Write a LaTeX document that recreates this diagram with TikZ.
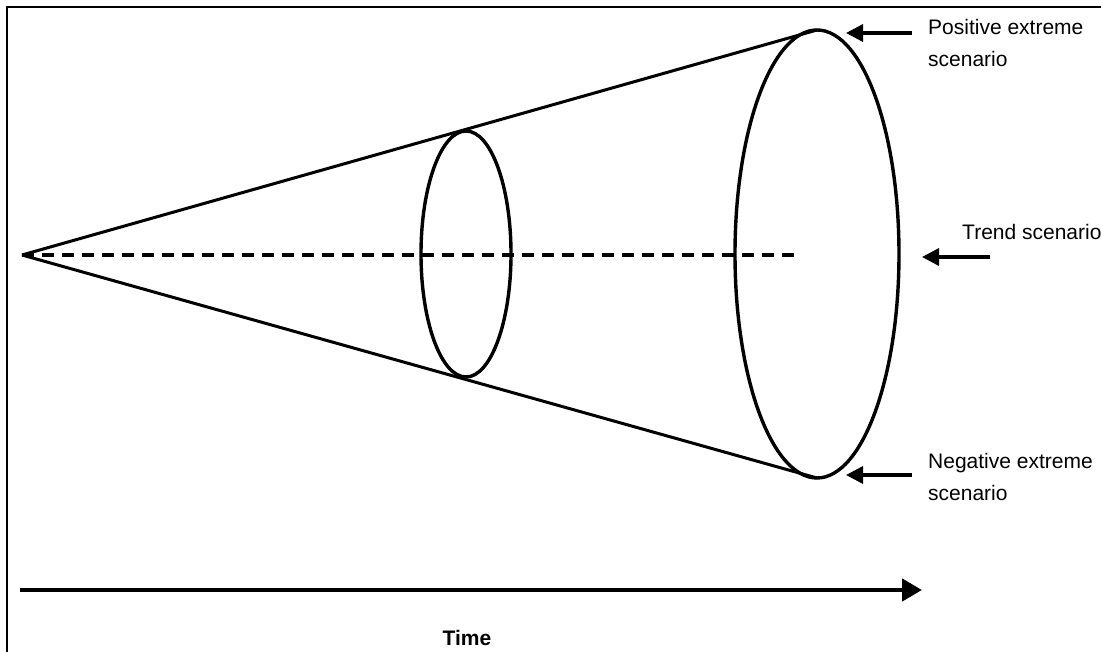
\documentclass[tikz,border=0pt]{standalone}
\usepackage{fontspec}
\setmainfont{Liberation Sans}
\usetikzlibrary{arrows.meta}

\begin{document}
\begin{tikzpicture}[
    x=1pt, y=-1pt,
    cone/.style={line width=3pt},
    ring/.style={line width=3.4pt},
    trend/.style={line width=3.2pt, dash pattern=on 12pt off 8pt},
    pointer/.style={-{Triangle[length=17pt, width=17pt]}, line width=3.4pt},
    label/.style={font=\fontsize{21}{32}\selectfont, align=left, inner sep=0pt, anchor=north west}
  ]
    \useasboundingbox (0,0) rectangle (1101,652);
    \draw[line width=2.5pt] (7,652) -- (7,7) -- (1101,7);

    \coordinate (apex) at (22,255);
    \coordinate (mid) at (466,254);
    \coordinate (far) at (817,254);
    \coordinate (top) at (817,30);
    \coordinate (bottom) at (817,478);

    \draw[cone] (apex) -- (top);
    \draw[cone] (apex) -- (bottom);
    \draw[trend] (apex) -- (800,255);
    \draw[ring] (mid) ellipse[x radius=45, y radius=123];
    \draw[ring] (far) ellipse[x radius=82, y radius=224];

    \node[label] (pos) at (928,19) {Positive extreme\\scenario};
    \node[label] (trnd) at (962,224) {Trend scenario};
    \node[label] (neg) at (928,453) {Negative extreme\\scenario};
    \coordinate (pos-tail) at (912,33);
    \coordinate (pos-tip) at (846,33);
    \coordinate (trnd-tail) at (990,257);
    \coordinate (trnd-tip) at (922,257);
    \coordinate (neg-tail) at (912,475);
    \coordinate (neg-tip) at (846,475);
    \draw[pointer] (pos-tail) -- (pos-tip);
    \draw[pointer] (trnd-tail) -- (trnd-tip);
    \draw[pointer] (neg-tail) -- (neg-tip);

    \coordinate (start) at (20,590);
    \coordinate (end) at (922,590);
    \draw[-{Triangle[length=20pt, width=22pt]}, line width=4.5pt] (start) -- (end);
    \node[font=\fontsize{21}{24}\selectfont\bfseries, anchor=base, inner sep=0pt] (time) at (467,645) {Time};
\end{tikzpicture}
\end{document}
